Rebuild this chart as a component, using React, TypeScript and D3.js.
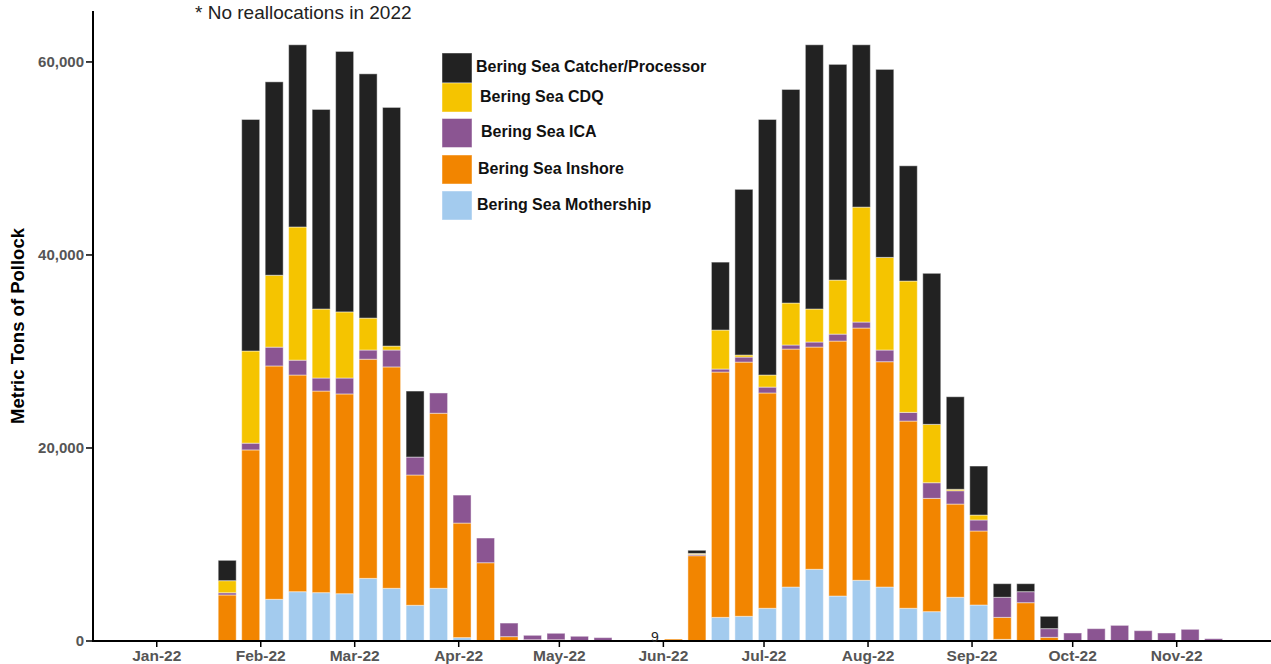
import React from "react";
import * as d3 from "d3";

const weeks: string[] = [
  "2022-01-22","2022-01-29","2022-02-05","2022-02-12","2022-02-19","2022-02-26",
  "2022-03-05","2022-03-12","2022-03-19","2022-03-26","2022-04-02","2022-04-09",
  "2022-04-16","2022-04-23","2022-04-30","2022-05-07","2022-05-14",
  "2022-06-04","2022-06-11","2022-06-18","2022-06-25","2022-07-02","2022-07-09",
  "2022-07-16","2022-07-23","2022-07-30","2022-08-06","2022-08-13","2022-08-20",
  "2022-08-27","2022-09-03","2022-09-10","2022-09-17","2022-09-24","2022-10-01",
  "2022-10-08","2022-10-15","2022-10-22","2022-10-29","2022-11-05","2022-11-12",
];

const mothership: number[] = [
  0,0,4320,5110,5010,4900,6490,5460,3700,5460,350,0,0,0,0,0,0,
  0,0,2450,2560,3390,5590,7430,4660,6290,5590,3390,3040,4530,3730,170,0,0,0,0,0,0,0,0,0,
];
const inshore: number[] = [
  4770,19800,24180,22450,20890,20700,22710,22940,13500,18140,11870,8110,450,130,130,0,0,
  200,8840,25420,26340,22310,24660,23030,26420,26140,23350,19400,11740,9660,7670,2280,3970,380,0,0,0,0,0,0,0,
];
const ica: number[] = [
  230,700,1950,1540,1350,1650,950,1750,1860,2100,2900,2560,1410,460,670,490,350,
  0,130,310,520,610,420,520,720,620,1210,900,1620,1380,1140,2080,1140,900,830,1280,1620,1070,830,1210,240,
];
const cdq: number[] = [
  1250,9550,7450,13800,7150,6850,3310,410,0,0,0,0,0,0,0,0,0,
  0,100,4040,210,1250,4350,3420,5600,11910,9600,13610,6050,150,510,0,0,0,0,0,0,0,0,0,0,
];
const catcherProcessor: number[] = [
  2110,23990,20040,18880,20680,26990,25310,24730,6840,0,0,0,0,0,0,0,0,
  0,330,7040,17170,26480,22130,27380,22350,16820,19480,11940,15650,9590,5080,1410,830,1280,0,0,0,0,0,0,0,
];

const seriesNames: string[] = [
  "Bering Sea Mothership",
  "Bering Sea Inshore",
  "Bering Sea ICA",
  "Bering Sea CDQ",
  "Bering Sea Catcher/Processor",
];
const seriesColors: string[] = ["#A3CBEE", "#F28500", "#8B5592", "#F5C400", "#222222"];
const legendOrder: number[] = [4, 3, 2, 1, 0];

const yTicks: number[] = [0, 20000, 40000, 60000];
const monthTicks: string[] = [
  "2022-01-01","2022-02-01","2022-03-01","2022-04-01","2022-05-01","2022-06-01",
  "2022-07-01","2022-08-01","2022-09-01","2022-10-01","2022-11-01",
];
const noteText = "* No reallocations in 2022";
const yTitle = "Metric Tons of Pollock";
const smallLabelWeek = "2022-05-28";
const smallLabelValue = 9;

const parse = d3.timeParse("%Y-%m-%d");

export default function App() {
  const W = 1271, H = 664;
  const left = 93, bottom = 641, top = 11;
  const x = d3.scaleTime()
    .domain([parse("2021-12-13")!, parse("2022-11-30")!])
    .range([left, 1274]);
  const y = d3.scaleLinear().domain([0, 65280]).range([bottom, top]);
  const barW = 18;

  const rows = weeks.map((w, i) => ({
    date: parse(w)!,
    s0: mothership[i], s1: inshore[i], s2: ica[i], s3: cdq[i], s4: catcherProcessor[i],
  }));
  const stack = d3.stack<any>().keys(["s0", "s1", "s2", "s3", "s4"]);
  const layers = stack(rows);
  const fmt = d3.format(",");
  const fmtMonth = d3.timeFormat("%b-%y");
  const font = "Arial, 'Liberation Sans', Helvetica, sans-serif";

  return (
    <svg width={W} height={H} style={{ position: "absolute", left: 0, top: 0, display: "block" }} fontFamily={font}>
      <rect x={0} y={0} width={W} height={H} fill="#fff" />
      {layers.map((layer, li) => (
        <g key={li} fill={seriesColors[li]}>
          {layer.map((d, di) => {
            const v = d[1] - d[0];
            if (v <= 0) return null;
            return (
              <rect key={di}
                x={x(d.data.date) - barW / 2}
                y={y(d[1])}
                width={barW}
                height={y(d[0]) - y(d[1])}
                stroke="#fff" strokeOpacity={0.45} strokeWidth={1} />
            );
          })}
        </g>
      ))}
      {/* axes */}
      <line x1={left} x2={left} y1={top} y2={bottom + 1} stroke="#000" strokeWidth={2} />
      <line x1={left - 1} x2={W} y1={bottom} y2={bottom} stroke="#000" strokeWidth={2} />
      {yTicks.map((t) => (
        <g key={t}>
          <line x1={left - 7} x2={left} y1={y(t)} y2={y(t)} stroke="#000" strokeWidth={1.5} />
          <text x={left - 9} y={y(t)} dy="0.35em" textAnchor="end" fontSize={15} fontWeight="bold" fill="#555">
            {fmt(t)}
          </text>
        </g>
      ))}
      {monthTicks.map((m) => {
        const d = parse(m)!;
        const xx = x(d);
        return (
          <g key={m}>
            <line x1={xx} x2={xx} y1={bottom} y2={bottom + 6} stroke="#000" strokeWidth={1.5} />
            <text x={xx} y={661} textAnchor="middle" fontSize={15.5} fontWeight="bold" fill="#555">
              {fmtMonth(d)}
            </text>
          </g>
        );
      })}
      <text x={x(parse(smallLabelWeek)!) + 5} y={y(smallLabelValue) + 1} textAnchor="middle" fontSize={14} fill="#222">
        {smallLabelValue}
      </text>
      <text transform={`translate(24,326) rotate(-90)`} textAnchor="middle" fontSize={18.5} fontWeight="bold" fill="#000">
        {yTitle}
      </text>
      <text x={195} y={19} fontSize={19} fill="#222">{noteText}</text>
      {/* legend */}
      {legendOrder.map((si, k) => {
        const ys = [53, 83, 118.5, 155, 191];
        const tx = [476, 480, 481, 478, 477];
        return (
          <g key={si}>
            <rect x={442} y={ys[k]} width={30} height={k === 0 ? 30 : 29} fill={seriesColors[si]}
              stroke="#fff" strokeOpacity={0.45} strokeWidth={1} />
            <text x={tx[k]} y={ys[k] + 13} dy="0.35em" fontSize={16} fontWeight="bold" fill="#111">
              {seriesNames[si]}
            </text>
          </g>
        );
      })}
    </svg>
  );
}
